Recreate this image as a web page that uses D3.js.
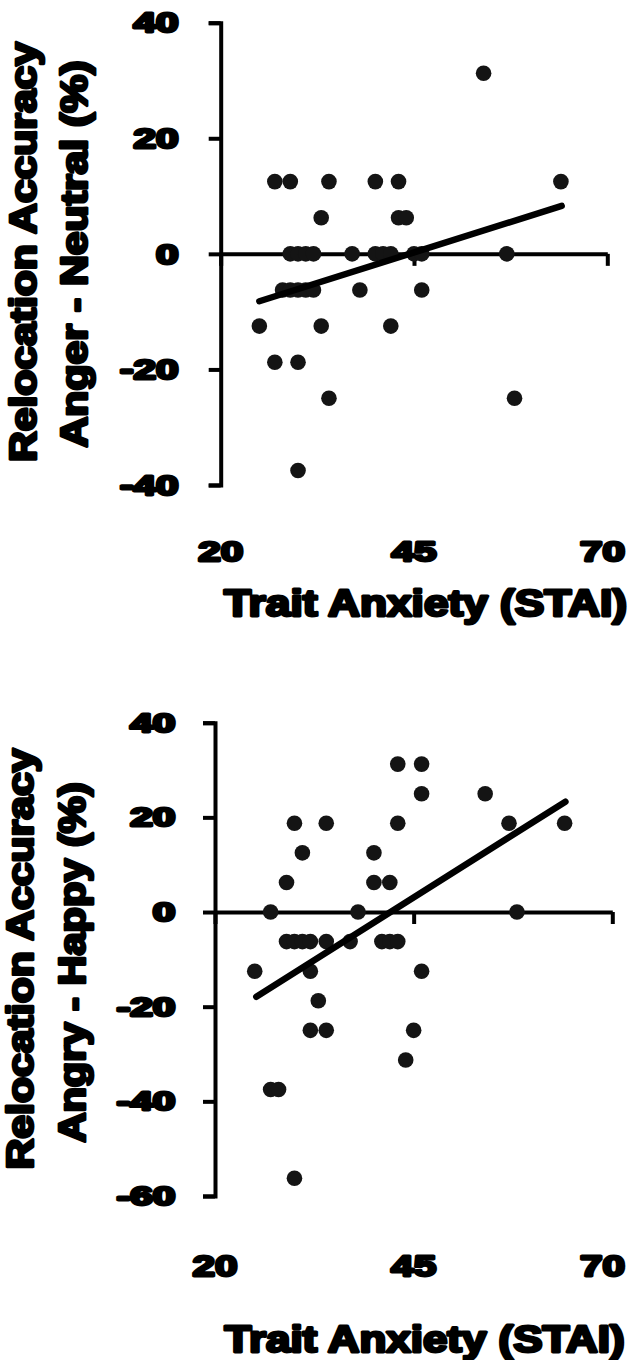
<!DOCTYPE html>
<html><head><meta charset="utf-8">
<script src="https://cdn.jsdelivr.net/npm/d3@7"></script>
<style>
body{margin:0;background:#fff}
svg text{font-family:"Liberation Sans",Arial,sans-serif;font-weight:bold;fill:#000;stroke:#000;stroke-linejoin:round}
</style>
</head><body><svg id="c" width="637" height="1360"></svg>
<script>
// ---- data ----
const xTicks = [20, 45, 70];
const yTicksTop = [-40, -20, 0, 20, 40];
const yTicksBottom = [-60, -40, -20, 0, 20, 40];
const xTitle = "Trait Anxiety (STAI)";
const yTitleTop = ["Relocation Accuracy", "Anger - Neutral (%)"];
const yTitleBottom = ["Relocation Accuracy", "Angry - Happy (%)"];

const anxietyTop = [54, 27,29,34,40,43,64, 33,43,44, 29,30,31,32,37,40,41,42,45,46,57,
  28,29,30,31,32,38,46, 25,33,42, 27,30, 34,58, 30];
const angerNeutral = [31.25, 12.5,12.5,12.5,12.5,12.5,12.5, 6.25,6.25,6.25, 0,0,0,0,0,0,0,0,0,0,0,
  -6.25,-6.25,-6.25,-6.25,-6.25,-6.25,-6.25, -12.5,-12.5,-12.5, -18.75,-18.75, -25,-25, -37.5];

const anxietyBottom = [43,46, 46,54, 30,34,43,57,64, 31,40, 29,40,42, 27,38,58,
  29,30,31,32,34,37,41,42,43, 25,32,46, 33, 32,34,45, 44, 27,28, 30];
const angryHappy = [31.25,31.25, 25,25, 18.75,18.75,18.75,18.75,18.75, 12.5,12.5, 6.25,6.25,6.25, 0,0,0,
  -6.25,-6.25,-6.25,-6.25,-6.25,-6.25,-6.25,-6.25,-6.25, -12.5,-12.5,-12.5, -18.75, -25,-25,-25, -31.25, -37.5,-37.5, -56.25];

const fitTopX = [25, 64.1], fitTopY = [-8.2, 8.3];
const fitBottomX = [25.2, 64.1], fitBottomY = [-17.9, 23.3];

// ---- layout ----
const svg = d3.select("#c");
const panels = [
  {xs:anxietyTop, ys:angerNeutral, fx:fitTopX, fy:fitTopY, yTicks:yTicksTop, yTitle:yTitleTop,
   xr:[220.7,607.3], yDom:[-40,40], yr:[485,22.7], yLabRight:178.5, yFs:27, xFs:28.5, xLabBase:561,
   xTitleLeft:224, xTitleLen:403, xTitleBase:615.5,
   yTitleBase:[35.5,87.3], yTitleCy:[252,254], yTitleLen:[420,387]},
  {xs:anxietyBottom, ys:angryHappy, fx:fitBottomX, fy:fitBottomY, yTicks:yTicksBottom, yTitle:yTitleBottom,
   xr:[215,612.3], yDom:[-60,40], yr:[1196,722.7], yLabRight:175.2, yFs:25.5, xFs:30, xLabBase:1275.5,
   xTitleLeft:224.5, xTitleLen:400, xTitleBase:1351.5,
   yTitleBase:[32.5,85], yTitleCy:[959,962.5], yTitleLen:[421,360]}
];

const digitW = 22.5;
function stretch(sel, fs){
  sel.each(function(){
    const n = this.getComputedTextLength();
    this.setAttribute("textLength", n * digitW / (0.556*fs));
    this.setAttribute("lengthAdjust","spacingAndGlyphs");
  });
}

panels.forEach(p => {
  const x = d3.scaleLinear().domain([20,70]).range(p.xr);
  const y = d3.scaleLinear().domain(p.yDom).range(p.yr);
  const g = svg.append("g");

  // y axis
  g.append("g").attr("transform",`translate(${p.xr[0]},0)`)
    .call(d3.axisLeft(y).tickValues(p.yTicks).tickSize(12).tickFormat(""))
    .call(a => a.selectAll("path,line").attr("stroke","#000").attr("stroke-width",4))
    .call(a => a.selectAll("text").remove());
  // x axis at y=0
  g.append("g").attr("transform",`translate(0,${y(0)})`)
    .call(d3.axisBottom(x).tickValues(xTicks).tickSize(12).tickSizeOuter(0).tickFormat(""))
    .call(a => a.selectAll("path,line").attr("stroke","#000").attr("stroke-width",4))
    .call(a => a.selectAll("text").remove());

  // y tick labels
  const yl = g.append("g").selectAll("text").data(p.yTicks).join("text")
    .attr("x", p.yLabRight).attr("y", d => y(d) + 0.716*p.yFs/2)
    .attr("text-anchor","end").attr("font-size",p.yFs).attr("stroke-width",2.8)
    .text(d => d);
  stretch(yl, p.yFs);

  // x tick labels
  const xl = g.append("g").selectAll("text").data(xTicks).join("text")
    .attr("y", p.xLabBase).attr("text-anchor","middle").attr("font-size",p.xFs).attr("stroke-width",2.8)
    .text(d => d);
  stretch(xl, p.xFs);
  xl.attr("x", function(d){
    const w = +this.getAttribute("textLength");
    return Math.min(x(d), 625 - w/2);
  });

  // x title
  g.append("text").attr("x",p.xTitleLeft).attr("y",p.xTitleBase)
    .attr("font-size",36).attr("stroke-width",2.8)
    .attr("textLength",p.xTitleLen).attr("lengthAdjust","spacingAndGlyphs")
    .text(xTitle);

  // y title (two rotated lines)
  p.yTitle.forEach((t,i) => {
    g.append("text")
      .attr("transform",`translate(${p.yTitleBase[i]},${p.yTitleCy[i]}) rotate(-90)`)
      .attr("text-anchor","middle").attr("font-size",36).attr("stroke-width",2.8)
      .attr("textLength",p.yTitleLen[i]).attr("lengthAdjust","spacingAndGlyphs")
      .text(t);
  });

  // points
  g.append("g").selectAll("circle").data(p.xs.map((v,i)=>[v,p.ys[i]])).join("circle")
    .attr("cx", d => x(d[0])).attr("cy", d => y(d[1])).attr("r", 7.8)
    .attr("fill","#141414");

  // fit line
  g.append("line")
    .attr("x1",x(p.fx[0])).attr("y1",y(p.fy[0]))
    .attr("x2",x(p.fx[1])).attr("y2",y(p.fy[1]))
    .attr("stroke","#000").attr("stroke-width",6.5).attr("stroke-linecap","round");
});
</script>
</body></html>
